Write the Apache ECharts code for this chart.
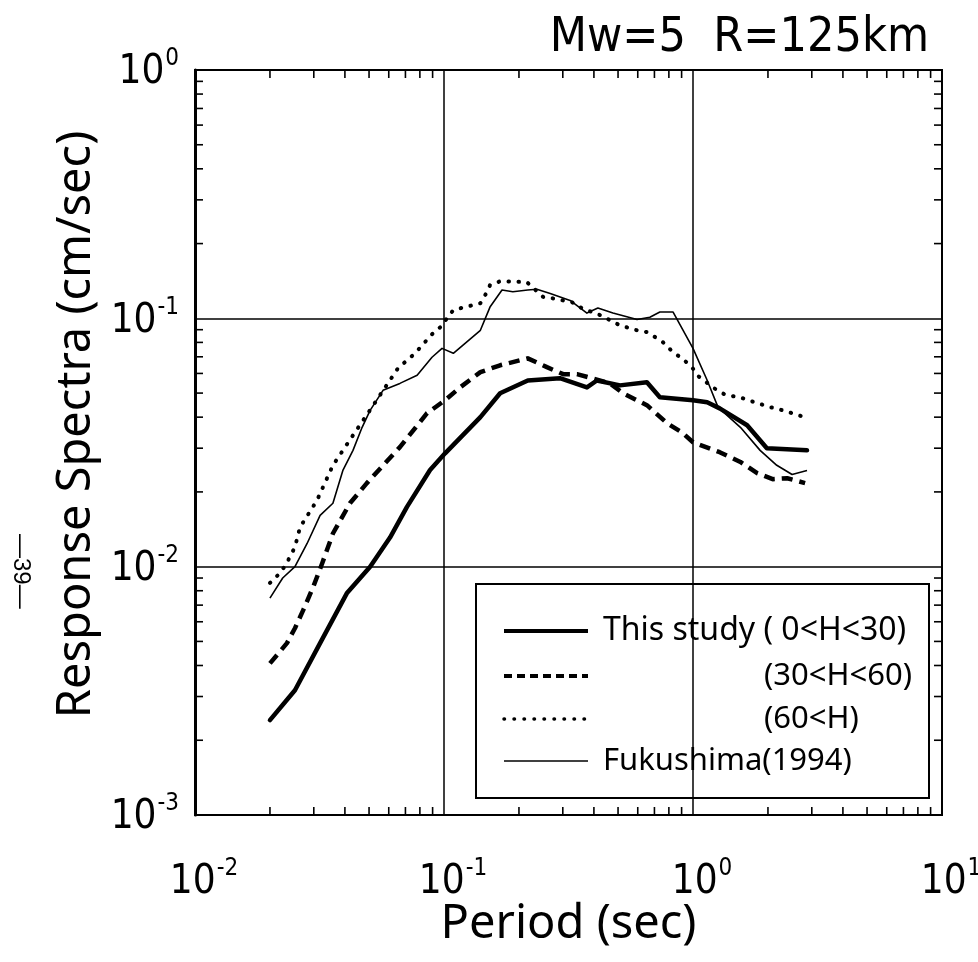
<!DOCTYPE html>
<html>
<head>
<meta charset="utf-8">
<script src="https://cdn.jsdelivr.net/npm/echarts/dist/echarts.min.js"></script>
<style>html,body{margin:0;padding:0;background:#fff;}#c{width:978px;height:962px;}</style>
</head>
<body>
<div id="c"></div>
<script>
// ---- data (period [s], response spectra [cm/s]) ----
const studyShallow = [[0.02,0.00241],[0.0252,0.00318],[0.0318,0.00492],[0.0407,0.00781],[0.0505,0.0100],[0.0607,0.0131],[0.0710,0.0174],[0.0879,0.0245],[0.101,0.0286],[0.140,0.0400],[0.168,0.0499],[0.217,0.0562],[0.292,0.0574],[0.375,0.0527],[0.411,0.0562],[0.509,0.0537],[0.653,0.0553],[0.736,0.0481],[1.0,0.0468],[1.14,0.0459],[1.28,0.0434],[1.65,0.0371],[1.98,0.0300],[2.87,0.0294]];
const studyMiddle = [[0.02,0.00408],[0.0234,0.00492],[0.0252,0.00565],[0.0272,0.00668],[0.0298,0.00826],[0.0324,0.0103],[0.0358,0.0136],[0.0419,0.0180],[0.049,0.0217],[0.0665,0.0303],[0.0855,0.0415],[0.101,0.0468],[0.116,0.0527],[0.140,0.0607],[0.168,0.0647],[0.217,0.069],[0.259,0.0636],[0.301,0.0596],[0.342,0.0596],[0.393,0.0574],[0.464,0.0547],[0.524,0.0499],[0.653,0.0447],[0.787,0.0378],[0.904,0.0347],[1.0,0.0317],[1.28,0.0289],[1.55,0.0264],[1.81,0.0238],[2.09,0.0225],[2.39,0.0227],[2.82,0.0217]];
const studyDeep = [[0.02,0.0086],[0.0219,0.0094],[0.0232,0.0102],[0.0252,0.0120],[0.0264,0.0144],[0.0309,0.0185],[0.0358,0.0256],[0.0431,0.0338],[0.0514,0.0439],[0.0653,0.0629],[0.0765,0.0723],[0.0895,0.0863],[0.0965,0.092],[0.109,0.108],[0.140,0.115],[0.149,0.128],[0.153,0.136],[0.168,0.141],[0.215,0.140],[0.25,0.122],[0.278,0.120],[0.327,0.116],[0.357,0.110],[0.424,0.103],[0.509,0.0937],[0.596,0.0895],[0.658,0.0879],[0.759,0.080],[0.832,0.073],[0.904,0.069],[0.99,0.0636],[1.05,0.0585],[1.22,0.0522],[1.34,0.0494],[1.59,0.0476],[1.77,0.0459],[2.04,0.0439],[2.3,0.0426],[2.74,0.0403]];
const fukushima = [[0.02,0.00747],[0.0225,0.0090],[0.0252,0.0100],[0.0282,0.0124],[0.0318,0.0161],[0.0358,0.0180],[0.0393,0.0245],[0.0431,0.0294],[0.0469,0.0364],[0.0505,0.0426],[0.0569,0.0513],[0.0665,0.0547],[0.078,0.059],[0.0895,0.0697],[0.0982,0.0757],[0.109,0.0723],[0.140,0.0895],[0.153,0.111],[0.171,0.130],[0.189,0.128],[0.217,0.130],[0.236,0.131],[0.267,0.126],[0.321,0.118],[0.375,0.105],[0.415,0.110],[0.477,0.105],[0.596,0.099],[0.671,0.101],[0.736,0.106],[0.832,0.106],[1.0,0.0757],[1.14,0.0563],[1.26,0.0439],[1.55,0.0364],[1.86,0.0294],[2.17,0.0256],[2.5,0.0235],[2.87,0.0244]];
const seriesNames = ['This study ( 0<H<30)', '(30<H<60)', '(60<H)', 'Fukushima(1994)'];
const xRange = [0.01, 10];
const yRange = [0.001, 1];
const titleText = 'Mw=5  R=125km';
const xName = 'Period (sec)';
const yName = 'Response Spectra (cm/sec)';
const pageMark = '\u201439\u2014';

// minor tick values (2..9 x each decade)
function minorTicks(lo, hi) {
  const out = [];
  for (let d = Math.round(Math.log10(lo)); d < Math.round(Math.log10(hi)); d++) {
    for (let k = 2; k <= 9; k++) out.push(k * Math.pow(10, d));
  }
  return out;
}
const xMinor = minorTicks(xRange[0], xRange[1]);
const yMinor = minorTicks(yRange[0], yRange[1]);

const NARROW = '"DejaVu Sans Condensed", "Liberation Sans Narrow", "Liberation Sans", sans-serif';
const GOTHIC = '"Noto Sans", "DejaVu Sans", sans-serif';

function expLabel(v) {
  const e = Math.round(Math.log10(v));
  return '{p|}{b|10}{s|' + (e < 0 ? '-' + (-e) : e) + '}';
}
function expLabelY(v) {
  const e = Math.round(Math.log10(v));
  return '{b|10}{s|' + (e < 0 ? '-' + (-e) : e) + '}';
}
const richX = {
  p: { width: 18 },
  b: { fontSize: 40, fontFamily: NARROW, color: '#000', verticalAlign: 'bottom' },
  s: { fontSize: 24, fontFamily: NARROW, color: '#000', padding: [0, 0, 22, 1], verticalAlign: 'bottom' }
};
const richY = {
  b: { fontSize: 40, fontFamily: NARROW, color: '#000', verticalAlign: 'bottom' },
  s: { fontSize: 24, fontFamily: NARROW, color: '#000', padding: [0, 0, 22, 1], verticalAlign: 'bottom' }
};

const chart = echarts.init(document.getElementById('c'), null, { renderer: 'canvas' });
const option = {
  backgroundColor: '#fff',
  animation: false,
  title: {
    text: titleText, right: 44, top: 10,
    textStyle: { fontFamily: NARROW, fontSize: 48, fontWeight: 'normal', color: '#000' }
  },
  grid: { left: 195, top: 70, width: 747, height: 745, show: true, borderColor: '#000', borderWidth: 2, backgroundColor: 'transparent', containLabel: false, outerBoundsMode: 'none' },
  xAxis: {
    type: 'log', logBase: 10, min: xRange[0], max: xRange[1], splitNumber: 3,
    name: xName, nameLocation: 'middle', nameGap: 86, nameMoveOverlap: false,
    nameTextStyle: { fontFamily: GOTHIC, fontSize: 47, color: '#000' },
    axisLine: { show: true, lineStyle: { color: '#000', width: 2 } },
    axisTick: { show: false },
    axisLabel: { margin: 42, formatter: expLabel, rich: richX, showMinLabel: true, showMaxLabel: true, hideOverlap: false },
    splitLine: { show: true, lineStyle: { color: '#000', width: 1.5 } },
    minorTick: { show: false }, minorSplitLine: { show: false }
  },
  yAxis: {
    type: 'log', logBase: 10, min: yRange[0], max: yRange[1], splitNumber: 3,
    name: yName, nameLocation: 'middle', nameGap: 95, nameRotate: 90, nameMoveOverlap: false,
    nameTextStyle: { fontFamily: GOTHIC, fontSize: 47, color: '#000', padding: [0, 0, 0, 36] },
    axisLine: { show: true, lineStyle: { color: '#000', width: 3 } },
    axisTick: { show: false },
    axisLabel: { margin: 16, formatter: expLabelY, rich: richY, showMinLabel: true, showMaxLabel: true, hideOverlap: false },
    splitLine: { show: true, lineStyle: { color: '#000', width: 1.5 } },
    minorTick: { show: false }, minorSplitLine: { show: false }
  },
  series: [
    { name: seriesNames[0], type: 'line', data: studyShallow, showSymbol: false, symbol: 'none', z: 5,
      lineStyle: { color: '#000', width: 4.5, cap: 'round', join: 'round' } },
    { name: seriesNames[1], type: 'line', data: studyMiddle, showSymbol: false, symbol: 'none', z: 5,
      lineStyle: { color: '#000', width: 4.5, type: [11, 7], join: 'round' } },
    { name: seriesNames[2], type: 'line', data: studyDeep, showSymbol: false, symbol: 'none', z: 5,
      lineStyle: { color: '#000', width: 4, type: [0.5, 9.5], cap: 'round', join: 'round' } },
    { name: seriesNames[3], type: 'line', data: fukushima, showSymbol: false, symbol: 'none', z: 5,
      lineStyle: { color: '#000', width: 1.6, join: 'round' } },
    { name: 'minorTicks', type: 'custom', data: [[1, 0.1]], silent: true, clip: false, z: 6,
      renderItem: function (params, api) {
        const ch = [];
        const L = 8;
        const st = { stroke: '#000', lineWidth: 1.6 };
        xMinor.forEach(function (v) {
          const b = api.coord([v, yRange[0]]);
          const t = api.coord([v, yRange[1]]);
          ch.push({ type: 'line', shape: { x1: b[0], y1: b[1], x2: b[0], y2: b[1] - L }, style: st });
          ch.push({ type: 'line', shape: { x1: t[0], y1: t[1], x2: t[0], y2: t[1] + L }, style: st });
        });
        yMinor.forEach(function (v) {
          const l = api.coord([xRange[0], v]);
          const r = api.coord([xRange[1], v]);
          ch.push({ type: 'line', shape: { x1: l[0], y1: l[1], x2: l[0] + L, y2: l[1] }, style: st });
          ch.push({ type: 'line', shape: { x1: r[0], y1: r[1], x2: r[0] - L, y2: r[1] }, style: st });
        });
        return { type: 'group', children: ch };
      } }
  ],
  graphic: [
    { type: 'group', left: 475, top: 583, z: 100, children: [
      { type: 'rect', shape: { x: 0, y: 0, width: 453, height: 214 }, style: { fill: '#fff', stroke: '#000', lineWidth: 2 } },
      { type: 'line', shape: { x1: 28, y1: 47, x2: 112, y2: 47 }, style: { stroke: '#000', lineWidth: 4 } },
      { type: 'line', shape: { x1: 28, y1: 92, x2: 112, y2: 92 }, style: { stroke: '#000', lineWidth: 4, lineDash: [8, 5] } },
      { type: 'line', shape: { x1: 28, y1: 135, x2: 112, y2: 135 }, style: { stroke: '#000', lineWidth: 3.5, lineDash: [0.5, 9.5], lineCap: 'round' } },
      { type: 'line', shape: { x1: 28, y1: 177, x2: 112, y2: 177 }, style: { stroke: '#000', lineWidth: 1.6 } },
      { type: 'text', x: 127, y: 47, style: { text: seriesNames[0], fill: '#000', font: '32px ' + GOTHIC, verticalAlign: 'middle' } },
      { type: 'text', x: 288, y: 92, style: { text: seriesNames[1], fill: '#000', font: '31px ' + GOTHIC, verticalAlign: 'middle' } },
      { type: 'text', x: 288, y: 135, style: { text: seriesNames[2], fill: '#000', font: '31px ' + GOTHIC, verticalAlign: 'middle' } },
      { type: 'text', x: 127, y: 177, style: { text: seriesNames[3], fill: '#000', font: '31px ' + GOTHIC, verticalAlign: 'middle' } }
    ] },
    { type: 'text', x: 21, y: 534, rotation: -Math.PI / 2, z: 100,
      style: { text: pageMark, fill: '#000', font: '24px "Liberation Sans", sans-serif', verticalAlign: 'middle' } }
  ]
};
chart.setOption(option);
</script>
</body>
</html>
